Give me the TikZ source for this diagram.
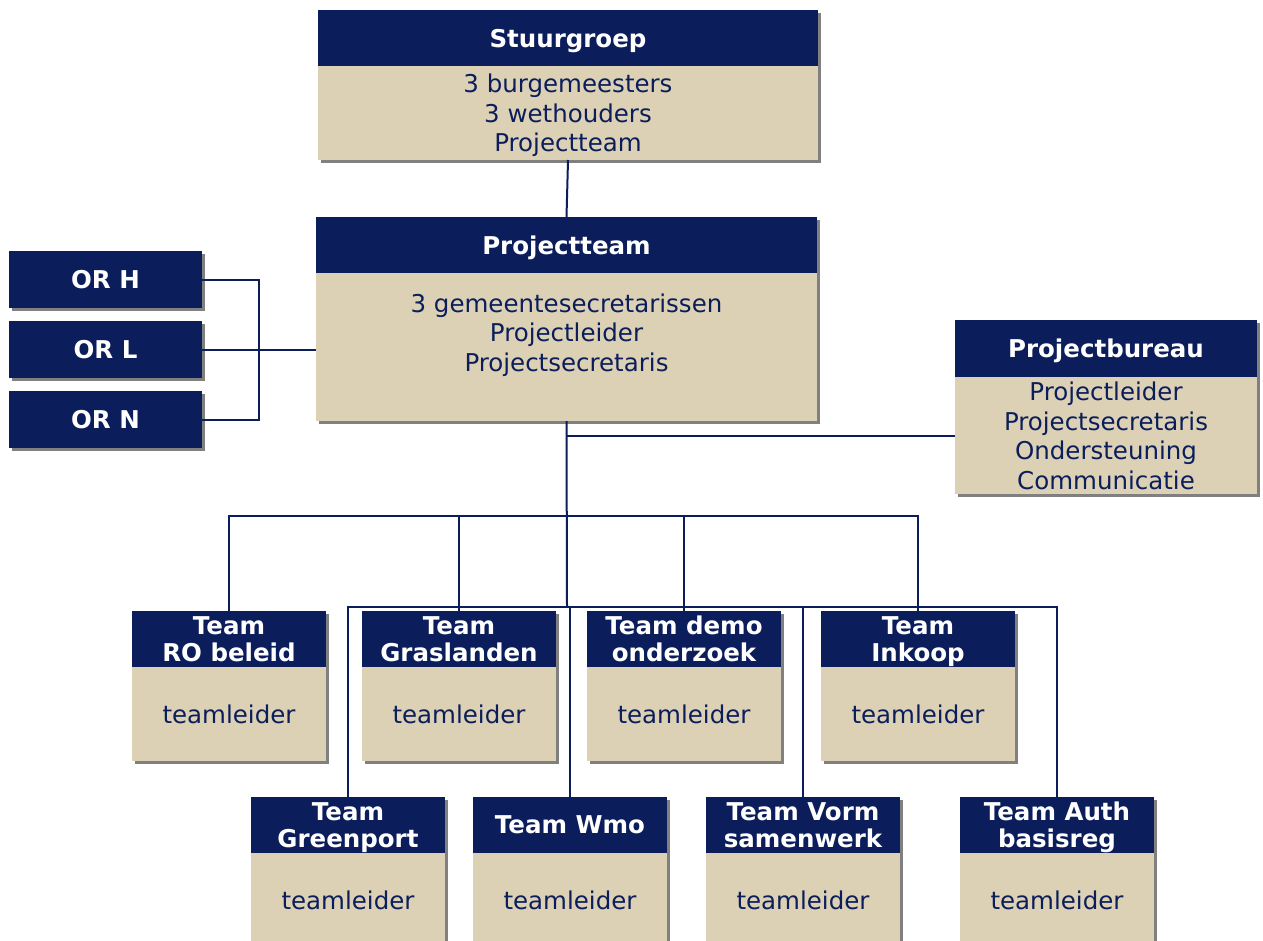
\documentclass[tikz,border=0pt]{standalone}
\usepackage{fontspec}
\setmainfont{DejaVu Sans}
\usepackage{tikz}
\usetikzlibrary{positioning,shadows}
\definecolor{OrgNavy}{HTML}{0B1E5B}
\definecolor{OrgSand}{HTML}{DCD1B4}

\begin{document}
\begin{tikzpicture}[x=1pt, y=-1pt,
    boxshadow/.style={drop shadow={shadow xshift=3pt, shadow yshift=-3pt,
      fill=black!50, opacity=1}},
    head/.style={boxshadow, fill=OrgNavy, text=white, align=center,
      anchor=north west, inner sep=0pt, outer sep=0pt, minimum height=56pt,
      text depth=0pt, font=\fontsize{24.5}{27}\selectfont\bfseries},
    body/.style={boxshadow, fill=OrgSand, text=OrgNavy, align=center,
      inner sep=0pt, outer sep=0pt, text depth=0pt,
      font=\fontsize{24.5}{29.5}\selectfont},
    team/.style={minimum width=194pt},
    link/.style={draw=OrgNavy, line width=2pt}
  ]
    \path[use as bounding box, clip] (0,0) rectangle (1263,940);

    \node[head, minimum width=500pt] (st-h) at (318,10) {Stuurgroep};
    \node[body, minimum width=500pt, minimum height=94pt, below=0pt of st-h] (st-b) {3 burgemeesters\\3 wethouders\\Projectteam};
    \node[head, minimum width=501pt] (pt-h) at (316,217) {Projectteam};
    \node[body, minimum width=501pt, minimum height=148pt, below=0pt of pt-h] (pt-b) {3 gemeentesecretarissen\\Projectleider\\Projectsecretaris\\ \mbox{}};

    \node[head, minimum width=193pt, minimum height=57pt] (orh) at (9,251) {OR H};
    \node[head, minimum width=193pt, minimum height=57pt] (orl) at (9,321) {OR L};
    \node[head, minimum width=193pt, minimum height=57pt] (orn) at (9,391) {OR N};

    \node[head, minimum width=302pt, minimum height=57pt] (pb-h) at (955,320) {Projectbureau};
    \node[body, minimum width=302pt, minimum height=117pt, below=0pt of pb-h] (pb-b) {Projectleider\\Projectsecretaris\\Ondersteuning\\Communicatie};

    \node[head, team] (ro-h) at (132,611) {Team\\RO beleid};
    \node[body, team, minimum height=94pt, below=0pt of ro-h] (ro-b) {teamleider};
    \node[head, team] (gr-h) at (362,611) {Team\\Graslanden};
    \node[body, team, minimum height=94pt, below=0pt of gr-h] (gr-b) {teamleider};
    \node[head, team] (dm-h) at (587,611) {Team demo\\onderzoek};
    \node[body, team, minimum height=94pt, below=0pt of dm-h] (dm-b) {teamleider};
    \node[head, team] (in-h) at (821,611) {Team\\Inkoop};
    \node[body, team, minimum height=94pt, below=0pt of in-h] (in-b) {teamleider};

    \node[head, team] (gp-h) at (251,797) {Team\\Greenport};
    \node[body, team, minimum height=94pt, below=0pt of gp-h] (gp-b) {teamleider};
    \node[head, team] (wm-h) at (473,797) {Team Wmo};
    \node[body, team, minimum height=94pt, below=0pt of wm-h] (wm-b) {teamleider};
    \node[head, team] (vs-h) at (706,797) {Team Vorm\\samenwerk};
    \node[body, team, minimum height=94pt, below=0pt of vs-h] (vs-b) {teamleider};
    \node[head, team] (ab-h) at (960,797) {Team Auth\\basisreg};
    \node[body, team, minimum height=94pt, below=0pt of ab-h] (ab-b) {teamleider};

    \coordinate (orbus) at (259,349);
    \coordinate (bus1) at (567,516);
    \coordinate (bus2) at (567,607);

    \draw[link] (st-b.south) -- (pt-h.north);
    \draw[link] (orh.east) -| (orbus) |- (orn.east);
    \draw[link] (orl.east) -- (orl.east -| pt-b.west);
    \draw[link] (pt-b.south) -- (bus2);
    \draw[link] (pb-b.west) -- (pb-b.west -| pt-b.south);
    \draw[link] (ro-h.north) |- (bus1) -| (in-h.north);
    \draw[link] (gr-h.north) -- (gr-h.north |- bus1);
    \draw[link] (dm-h.north) -- (dm-h.north |- bus1);
    \draw[link] (gp-h.north) |- (bus2) -| (ab-h.north);
    \draw[link] (wm-h.north) -- (wm-h.north |- bus2);
    \draw[link] (vs-h.north) -- (vs-h.north |- bus2);
  \end{tikzpicture}
\end{document}
